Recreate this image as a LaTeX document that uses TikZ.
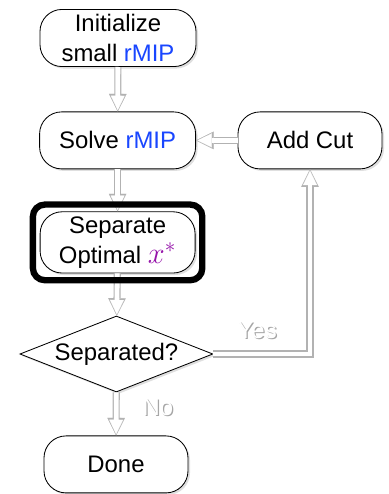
\documentclass[tikz,border=0pt]{standalone}
\usepackage{fontspec}
\setmainfont{Liberation Sans}
\usetikzlibrary{arrows.meta,shapes.geometric,shadows,fit}
\definecolor{mipblue}{RGB}{25,70,255}
\definecolor{xpurple}{RGB}{150,20,170}
% white label with a soft grey copy underneath
\newcommand\glowtext[1]{\rlap{\kern0.9pt\raisebox{-0.9pt}{\textcolor{black!35}{#1}}}\textcolor{white}{#1}}

\begin{document}
\begin{tikzpicture}[
  every node/.style={font=\fontsize{17}{21.5}\selectfont},
  term/.style={draw, fill=white, line width=0.6pt, rounded corners=0.55cm,
    minimum height=1.425cm, align=center,
    drop shadow={opacity=0.25, shadow xshift=0.05cm, shadow yshift=-0.05cm}},
  decide/.style={draw, fill=white, line width=0.6pt, diamond, aspect=2.54,
    inner sep=0pt, minimum width=4.825cm, minimum height=1.9cm,
    drop shadow={opacity=0.25, shadow xshift=0.05cm, shadow yshift=-0.05cm}},
  frame/.style={draw, line width=4.5pt, rounded corners=0.3cm, inner sep=0.17cm},
  flow/.style={draw=black!30, line width=5pt, line join=miter,
    -{Triangle[length=12.5pt,width=12.5pt,line width=0.1pt]},
    postaction={draw=white, line width=3.4pt,
      -{Triangle[length=10.2pt,width=9.8pt,line width=0.1pt]}, shorten >=1pt}},
  lbl/.style={inner sep=0pt}
]
\useasboundingbox (0,0) rectangle (9.725,-12.35);

\node[term, minimum width=3.9cm] (init) at (2.95,-0.95) {Initialize\\small \textcolor{mipblue}{rMIP}};
\node[term, minimum width=3.9cm] (solve) at (2.94,-3.51) {Solve \textcolor{mipblue}{rMIP}};
\node[term, minimum width=3.6cm] (add) at (7.75,-3.51) {Add Cut};
\node[term, minimum width=3.875cm, minimum height=1.475cm] (sep) at (2.94,-6.06)
  {Separate\\Optimal \scalebox{1.25}{$\color{xpurple}x^*$}};
\node[decide] (dec) at (2.91,-8.85) {Separated?};
\node[term, minimum width=3.6cm] (done) at (2.9,-11.61) {Done};

\draw[flow] (init) -- (solve);
\draw[flow] (solve) -- (sep);
\draw[flow] (sep) -- (dec);
\draw[flow] (dec) -- (done);
\draw[flow] (dec.east) -| (add.south);
\draw[flow] (add) -- (solve);

% thick frame around the separation step
\node[frame, fit=(sep)] (sepframe) {};

\node[lbl] (yes) at (6.43,-8.28) {\glowtext{Yes}};
\node[lbl] (no) at (3.95,-10.2) {\glowtext{No}};
\end{tikzpicture}
\end{document}
